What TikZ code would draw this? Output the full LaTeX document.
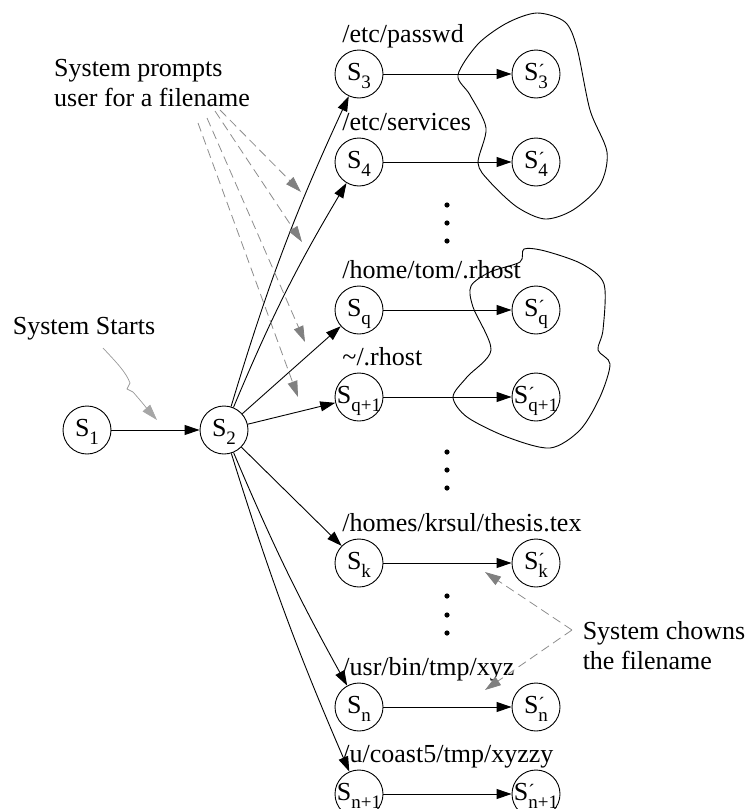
\documentclass[tikz,border=0pt]{standalone}
\usepackage{fontspec}
\setmainfont{Liberation Serif}
\usetikzlibrary{arrows.meta}

\newcommand\subfont{\fontsize{19}{19}\selectfont}
\newcommand\stlab[1]{\makebox[0pt]{\raisebox{-6pt}[0pt][0pt]{S\raisebox{-8pt}{\subfont #1}}}}
\newcommand\stlabp[1]{\makebox[0pt]{\raisebox{-6pt}[0pt][0pt]{S\rlap{\raisebox{3pt}{\subfont\char"00B4}}\raisebox{-8pt}{\subfont #1}}}}

\tikzset{
  state/.style={circle,draw,minimum size=48pt,inner sep=0pt},
  fname/.style={anchor=base west,inner sep=0pt},
  note/.style={align=left,inner sep=0pt},
  hint/.style={draw=black!45,line width=0.8pt,dash pattern=on 9pt off 5pt,
    -{Triangle[length=16pt,width=10pt,color=black!50,fill=black!50]}},
}

\begin{document}
\begin{tikzpicture}[x=1pt,y=-1pt,line width=0.9pt,
  font=\fontsize{26}{30}\selectfont,
  >={Triangle[length=15pt,width=10pt]}]
\useasboundingbox (0,0) rectangle (749,809);

\node[state] (s1) at (87,430) {\stlab{1}};
\node[state] (s2) at (224,430) {\stlab{2}};
\draw[->] (s1) -- (s2);

\foreach \n/\i/\y/\file in {3/3/74/{/etc/passwd}, 4/4/162/{/etc/services},
    q/q/310/{/home/tom/.rhost}, q1/q+1/397/{\textasciitilde/.rhost},
    k/k/563/{/homes/krsul/thesis.tex}, n/n/707/{/usr/bin/tmp/xyz},
    n1/n+1/794/{/u/coast5/tmp/xyzzy}} {
  \node[state] (s\n) at (359,\y) {\stlab{\i}};
  \node[state] (t\n) at (536,\y) {\stlabp{\i}};
  \node[fname] (f\n) at (342,\y-32) {\file};
  \draw[->] (s\n) -- (t\n);
}

\draw[->] (s2) to[bend left=4] (s3);
\draw[->] (s2) to[bend left=4] (s4);
\draw[->] (s2) -- (sq);
\draw[->] (s2) -- (sq1);
\draw[->] (s2) -- (sk);
\draw[->] (s2) to[bend right=3] (sn);
\draw[->] (s2) to[bend right=3] (sn1);

\foreach \y in {205,223,241,452,470,488,596,615,633}
  \fill (447,\y) circle (2.6pt);

% the two sets of chowned files
\draw plot[smooth cycle] coordinates {(537,13) (565,22) (577,48) (590,110) (607,152)
  (600,185) (573,210) (545,219) (517,207) (490,182) (478,163) (486,128) (470,95)
  (458,75) (478,44) (507,23)};
\draw plot[smooth cycle] coordinates {(524,249) (545,251) (582,264) (604,284) (603,330)
  (598,350) (610,364) (600,397) (580,430) (550,448) (507,437) (467,417) (453,397)
  (467,377) (491,350) (473,307) (471,286) (490,272) (520,262)};

% notes
\node[note] (starts) at (84,329) {System Starts};
\node[note] (prompt) at (152,83) {System prompts\\user for a filename};
\node[note] (chown) at (664,646) {System chowns\\the filename};

\coordinate (a0) at (103,348);
\coordinate (a1) at (157,420);
\draw[black!40,line width=0.7pt,-{Triangle[length=16pt,width=10pt,fill=black!35,color=black!35]}]
  (a0) .. controls (116,362) and (126,372) .. (130,383) -- (127,389) -- (133,392)
  .. controls (141,401) and (149,411) .. (a1);

\coordinate (p1) at (220,110); \coordinate (q1) at (301,192);
\coordinate (p2) at (215,111); \coordinate (q2) at (302,242);
\coordinate (p3) at (207,118); \coordinate (q3) at (305,342);
\coordinate (p4) at (198,123); \coordinate (q4) at (298,397);
\foreach \k in {1,2,3,4}
  \draw[hint] (p\k) -- (q\k);

\coordinate (c0) at (572,630);
\coordinate (c1) at (485,572);
\coordinate (c2) at (485,690);
\draw[hint] (c0) -- (c1);
\draw[hint] (c0) -- (c2);
\end{tikzpicture}
\end{document}
